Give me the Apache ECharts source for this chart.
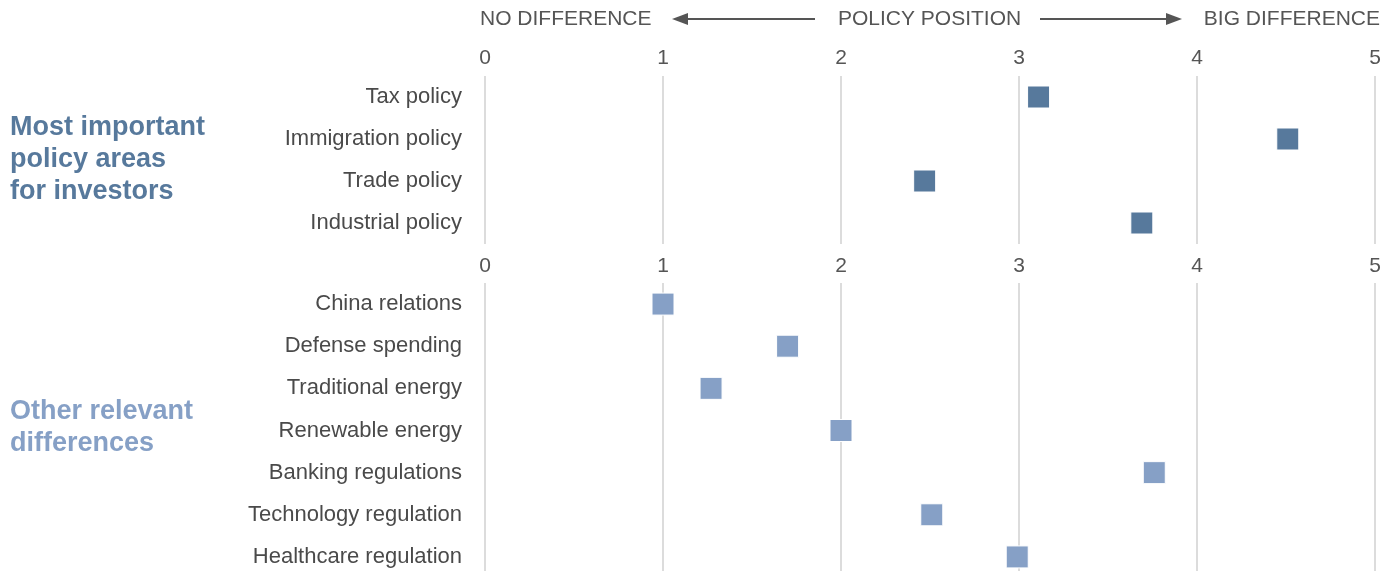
<!DOCTYPE html>
<html>
<head>
<meta charset="utf-8">
<script src="https://cdn.jsdelivr.net/npm/echarts@6/dist/echarts.min.js"></script>
<style>
  html, body { margin: 0; padding: 0; background: #fff; overflow: hidden; }
  #chart { width: 1395px; height: 580px; }
</style>
</head>
<body>
<div id="chart"></div>
<script>
// Policy areas ranked by how much the election outcome matters (0 = no difference, 5 = big difference)
const topCategories = ['Tax policy', 'Immigration policy', 'Trade policy', 'Industrial policy'];
const topValues = [3.11, 4.51, 2.47, 3.69];

const bottomCategories = ['China relations', 'Defense spending', 'Traditional energy', 'Renewable energy',
  'Banking regulations', 'Technology regulation', 'Healthcare regulation'];
const bottomValues = [1.0, 1.70, 1.27, 2.0, 3.76, 2.51, 2.99];

const tickValues = [0, 1, 2, 3, 4, 5];

const FONT = '"Liberation Sans", Arial, Helvetica, sans-serif';
const TOP_COLOR = '#57799c';
const BOTTOM_COLOR = '#86a0c6';
const TEXT = '#555';

const chart = echarts.init(document.getElementById('chart'));

function valueAxis(gridIndex, labelMargin) {
  return {
    type: 'value',
    gridIndex: gridIndex,
    position: 'top',
    min: tickValues[0],
    max: tickValues[tickValues.length - 1],
    interval: 1,
    axisLine: { show: false },
    axisTick: { show: false },
    axisLabel: { margin: labelMargin, fontSize: 21, color: TEXT, fontFamily: FONT },
    splitLine: { show: true, lineStyle: { color: '#dcdcdc', width: 2 } }
  };
}

function categoryAxis(gridIndex, cats) {
  return {
    type: 'category',
    gridIndex: gridIndex,
    data: cats,
    inverse: true,
    axisLine: { show: false },
    axisTick: { show: false },
    splitLine: { show: false },
    axisLabel: { margin: 23, fontSize: 22, color: '#4a4a4a', fontFamily: FONT, padding: [3, 0, 0, 0] }
  };
}

function squares(gridIndex, cats, vals, color) {
  return {
    type: 'scatter',
    xAxisIndex: gridIndex,
    yAxisIndex: gridIndex,
    symbol: 'rect',
    symbolSize: 22,
    data: vals.map((v, i) => [v, cats[i]]),
    itemStyle: { color: color, borderColor: '#fff', borderWidth: 1, opacity: 1 },
    emphasis: { disabled: true },
    z: 5
  };
}

chart.setOption({
  backgroundColor: '#fff',
  animation: false,
  grid: [
    { left: 485, right: 20, top: 76, height: 168 },
    { left: 485, right: 20, top: 283, height: 295 }
  ],
  xAxis: [valueAxis(0, 7), valueAxis(1, 6)],
  yAxis: [categoryAxis(0, topCategories), categoryAxis(1, bottomCategories)],
  series: [
    squares(0, topCategories, topValues, TOP_COLOR),
    squares(1, bottomCategories, bottomValues, BOTTOM_COLOR)
  ],
  graphic: [
    // header: direction of the scale
    { type: 'text', left: 480, top: 9, style: { text: 'NO DIFFERENCE', font: '21px ' + FONT, fill: TEXT } },
    { type: 'text', left: 838, top: 9, style: { text: 'POLICY POSITION', font: '21px ' + FONT, fill: TEXT } },
    { type: 'text', right: 15, top: 9, style: { text: 'BIG DIFFERENCE', font: '21px ' + FONT, fill: TEXT } },
    { type: 'line', shape: { x1: 686, y1: 19, x2: 815, y2: 19 }, style: { stroke: TEXT, lineWidth: 2 } },
    { type: 'polygon', shape: { points: [[672, 19], [688, 13], [688, 25]] }, style: { fill: TEXT } },
    { type: 'line', shape: { x1: 1040, y1: 19, x2: 1168, y2: 19 }, style: { stroke: TEXT, lineWidth: 2 } },
    { type: 'polygon', shape: { points: [[1182, 19], [1166, 13], [1166, 25]] }, style: { fill: TEXT } },
    // group titles
    { type: 'text', left: 10, top: 112,
      style: { text: 'Most important\npolicy areas\nfor investors', font: 'bold 27px ' + FONT, lineHeight: 32, fill: TOP_COLOR } },
    { type: 'text', left: 10, top: 396,
      style: { text: 'Other relevant\ndifferences', font: 'bold 27px ' + FONT, lineHeight: 32, fill: BOTTOM_COLOR } }
  ]
});
</script>
</body>
</html>
